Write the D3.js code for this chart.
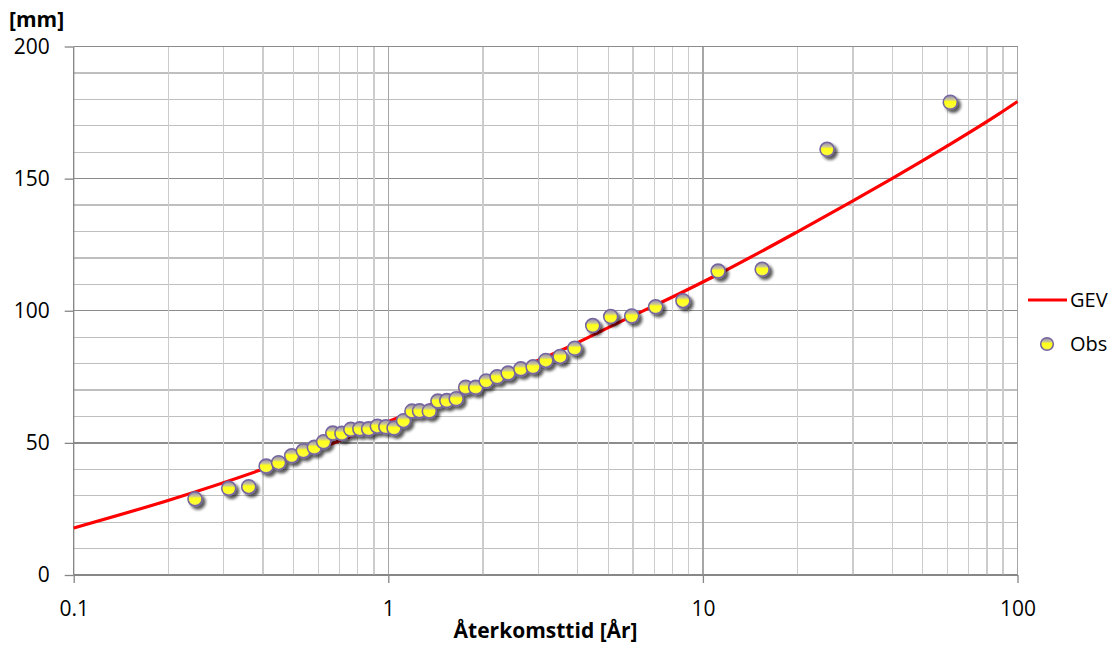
<!DOCTYPE html>
<html>
<head>
<meta charset="utf-8">
<script src="https://cdn.jsdelivr.net/npm/d3@7/dist/d3.min.js"></script>
<style>
  html, body { margin: 0; padding: 0; background: #ffffff; }
  svg { display: block; }
  text { font-family: "Open Sans", "Noto Sans", sans-serif; fill: #000; }
</style>
</head>
<body>
<svg id="chart" width="1120" height="646"></svg>
<script>
// ---- Data ----
const obsT = [0.243, 0.311, 0.360, 0.409, 0.448, 0.493, 0.537, 0.582, 0.623, 0.666,
              0.712, 0.760, 0.812, 0.866, 0.923, 0.982, 1.043, 1.118, 1.189, 1.257,
              1.350, 1.438, 1.534, 1.644, 1.762, 1.896, 2.047, 2.218, 2.404, 2.638,
              2.886, 3.168, 3.516, 3.914, 4.465, 5.093, 5.938, 7.076, 8.639, 11.18,
              15.43, 24.81, 61.13];
const obsMm = [28.8, 32.8, 33.4, 41.2, 42.5, 45.1, 47.0, 48.3, 50.4, 53.7,
               53.6, 55.1, 55.3, 55.3, 56.3, 56.1, 55.6, 58.4, 62.0, 62.1,
               62.0, 65.8, 66.0, 66.7, 71.0, 71.0, 73.4, 75.0, 76.4, 78.0,
               78.8, 81.2, 82.7, 85.8, 94.4, 97.8, 98.0, 101.5, 103.8, 115.0,
               115.7, 161.1, 178.9];
const gevT  = [0.1, 0.2017, 0.3895, 0.664, 1.068, 2.0, 3.755, 5.412, 8.598, 11.18, 19.70, 29.79, 39.9, 58.95, 87.03, 100];
const gevMm = [17.8, 28.4, 39.6, 49.8, 59.4, 72.6, 86.4, 95.6, 107.0, 113.8, 129.5, 141.4, 150.0, 161.9, 174.4, 179.2];

const xTickValues = [0.1, 1, 10, 100];
const xTickLabels = ["0.1", "1", "10", "100"];
const yTickValues = [0, 50, 100, 150, 200];
const yTickLabels = ["0", "50", "100", "150", "200"];
const seriesNames = ["GEV", "Obs"];
const yAxisTitle = "[mm]";
const xAxisTitle = "Återkomsttid [År]";

// ---- Layout ----
const plot = { left: 73.7, right: 1017.5, top: 46.5, bottom: 575 };
const svg = d3.select("#chart");

const x = d3.scaleLog().domain([0.1, 100]).range([plot.left, plot.right]);
const y = d3.scaleLinear().domain([0, 200]).range([plot.bottom, plot.top]);

// defs: marker gradient + shadow
const defs = svg.append("defs");
const grad = defs.append("linearGradient").attr("id", "obsFill")
  .attr("x1", 0).attr("y1", 0).attr("x2", 0).attr("y2", 1);
grad.append("stop").attr("offset", "0%").attr("stop-color", "#8f86ad");
grad.append("stop").attr("offset", "30%").attr("stop-color", "#c9c49a");
grad.append("stop").attr("offset", "45%").attr("stop-color", "#ffff1a");
grad.append("stop").attr("offset", "80%").attr("stop-color", "#ffff33");
grad.append("stop").attr("offset", "100%").attr("stop-color", "#d8d070");

const filt = defs.append("filter").attr("id", "shadow")
  .attr("x", "-50%").attr("y", "-50%").attr("width", "220%").attr("height", "220%");
filt.append("feGaussianBlur").attr("in", "SourceAlpha").attr("stdDeviation", 1.6).attr("result", "blur");
filt.append("feOffset").attr("in", "blur").attr("dx", 2.5).attr("dy", 2.5).attr("result", "off");
filt.append("feComponentTransfer").attr("in", "off").attr("result", "offA")
  .append("feFuncA").attr("type", "linear").attr("slope", 0.65);
const merge = filt.append("feMerge");
merge.append("feMergeNode").attr("in", "offA");
merge.append("feMergeNode").attr("in", "SourceGraphic");

// ---- Grid ----
const grid = svg.append("g");
const yMinor = d3.range(0, 201, 10);
grid.selectAll("line.hy").data(yMinor).join("line")
  .attr("x1", plot.left).attr("x2", plot.right)
  .attr("y1", d => y(d)).attr("y2", d => y(d))
  .attr("stroke", d => d % 50 === 0 ? "#8c8c8c" : "#bfbfbf")
  .attr("stroke-width", 1.3)
  .attr("shape-rendering", "crispEdges");
const xMinor = x.ticks().filter(d => d >= 0.1 && d <= 100);
grid.selectAll("line.vx").data(xMinor).join("line")
  .attr("x1", d => x(d)).attr("x2", d => x(d))
  .attr("y1", plot.top).attr("y2", plot.bottom)
  .attr("stroke", d => xTickValues.some(t => Math.abs(t - d) < 1e-9) ? "#a6a6a6" : "#cccccc")
  .attr("stroke-width", 1.3)
  .attr("shape-rendering", "crispEdges");

// ---- Axes ----
const yAxis = d3.axisLeft(y).tickValues(yTickValues).tickFormat((d, i) => yTickLabels[i])
  .tickSize(9).tickPadding(15);
const gy = svg.append("g").attr("transform", `translate(${plot.left},0)`).call(yAxis);
gy.selectAll(".tick line").attr("stroke", "#868686").attr("stroke-width", 1.3);
gy.selectAll(".tick text").attr("font-size", 21).attr("fill", "#000").attr("font-family", "\"Open Sans\", sans-serif");
gy.select(".domain").attr("stroke", "#868686").attr("stroke-width", 1.3)
  .attr("d", `M0,${plot.top}V${plot.bottom}`);

const xAxis = d3.axisBottom(x).tickValues(xTickValues).tickFormat((d, i) => xTickLabels[i])
  .tickSize(8).tickPadding(18);
const gx = svg.append("g").attr("transform", `translate(0,${plot.bottom})`).call(xAxis);
gx.selectAll(".tick line").attr("stroke", "#868686").attr("stroke-width", 1.3);
gx.selectAll(".tick text").attr("font-size", 21).attr("fill", "#000").attr("font-family", "\"Open Sans\", sans-serif");
gx.select(".domain").attr("stroke", "#868686").attr("stroke-width", 1.3)
  .attr("d", `M${plot.left},0H${plot.right}`);

// ---- GEV line ----
const gevData = gevT.map((t, i) => ({ t, v: gevMm[i] }));
const line = d3.line().x(d => x(d.t)).y(d => y(d.v)).curve(d3.curveMonotoneX);
svg.append("path").datum(gevData)
  .attr("d", line)
  .attr("fill", "none")
  .attr("stroke", "#ff0000")
  .attr("stroke-width", 3.2)
  .attr("stroke-linejoin", "round");

// ---- Observations ----
const obsData = obsT.map((t, i) => ({ t, v: obsMm[i] }));
svg.append("g").attr("filter", "url(#shadow)")
  .selectAll("circle").data(obsData).join("circle")
  .attr("cx", d => x(d.t)).attr("cy", d => y(d.v)).attr("r", 7)
  .attr("fill", "url(#obsFill)")
  .attr("stroke", "#7566a0")
  .attr("stroke-width", 1.6);

// ---- Titles ----
svg.append("text").attr("x", 9).attr("y", 27)
  .attr("font-size", 21).attr("font-weight", "bold").text(yAxisTitle);
svg.append("text").attr("x", (plot.left + plot.right) / 2).attr("y", 638)
  .attr("text-anchor", "middle").attr("font-size", 21).attr("font-weight", "bold").text(xAxisTitle);

// ---- Legend ----
const lg = svg.append("g");
lg.append("line").attr("x1", 1028).attr("x2", 1067).attr("y1", 300).attr("y2", 300)
  .attr("stroke", "#ff0000").attr("stroke-width", 3.2);
lg.append("text").attr("x", 1070).attr("y", 307).attr("font-size", 20).text(seriesNames[0]);
lg.append("circle").attr("cx", 1047).attr("cy", 344).attr("r", 6.3)
  .attr("fill", "url(#obsFill)").attr("stroke", "#7566a0").attr("stroke-width", 1.6);
lg.append("text").attr("x", 1070).attr("y", 351).attr("font-size", 20).text(seriesNames[1]);
</script>
</body>
</html>
